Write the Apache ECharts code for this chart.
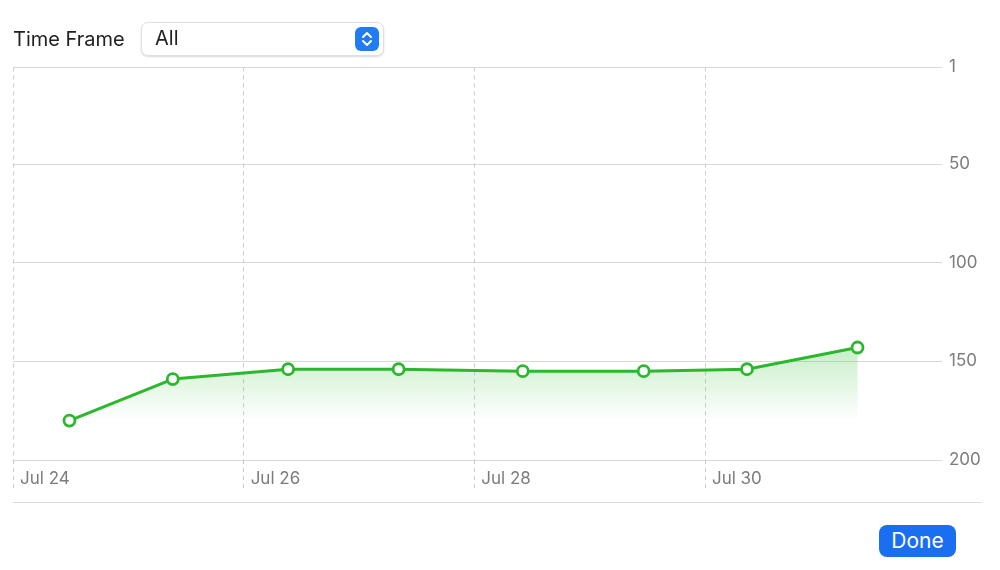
<!DOCTYPE html>
<html>
<head>
<meta charset="utf-8">
<script src="https://cdn.jsdelivr.net/npm/echarts@6/dist/echarts.min.js"></script>
<style>
  html, body { margin: 0; padding: 0; background: #fff; }
  #wrap { position: relative; width: 1000px; height: 570px; font-family: Inter, "Noto Sans", sans-serif; }
  #chart { position: absolute; left: 0; top: 0; width: 1000px; height: 570px; }
  #tf { position: absolute; left: 13px; top: 27px; font-size: 20px; color: #222; }
  #sel { position: absolute; left: 141px; top: 22px; width: 241px; height: 32px; border-radius: 7px;
         border: 1px solid #e0e0e0; box-shadow: 0 1px 2px rgba(0,0,0,0.15); background: #fff; }
  #sel span { position: absolute; left: 13px; top: 3px; font-size: 20px; color: #222; }
  #step { position: absolute; right: 4px; top: 4px; width: 24px; height: 24px; border-radius: 6px; background: #1f7cf6; }
  #done { position: absolute; left: 879px; top: 525px; width: 77px; height: 32px; border-radius: 8px;
          background: #1a6ff1; color: #fff; font-size: 21px; line-height: 32px; text-align: center; }
</style>
</head>
<body>
<div id="wrap">
  <div id="chart"></div>
  <div id="tf">Time Frame</div>
  <div id="sel"><span>All</span>
    <div id="step"><svg width="24" height="24" viewBox="0 0 24 24"><path d="M8 10 L12 6 L16 10" stroke="#fff" stroke-width="2" fill="none" stroke-linecap="round" stroke-linejoin="round"/><path d="M8 14 L12 18 L16 14" stroke="#fff" stroke-width="2" fill="none" stroke-linecap="round" stroke-linejoin="round"/></svg></div>
  </div>
  <div id="done">Done</div>
</div>
<script>
// ---- data ----
const times = ['2023-07-24T11:45:00Z', '2023-07-25T09:15:00Z', '2023-07-26T09:15:00Z', '2023-07-27T08:15:00Z',
               '2023-07-28T10:05:00Z', '2023-07-29T11:15:00Z', '2023-07-30T08:45:00Z', '2023-07-31T07:45:00Z'];
const ranks = [180, 159, 154, 154, 155, 155, 154, 143];
const xTickDates = ['2023-07-24T00:00:00Z', '2023-07-26T00:00:00Z', '2023-07-28T00:00:00Z', '2023-07-30T00:00:00Z'];
const yTicks = [1, 50, 100, 150, 200];
const xRange = ['2023-07-24T00:00:00Z', '2023-08-01T01:20:00Z'];
const yRange = [1, 200];
const months = ['Jan','Feb','Mar','Apr','May','Jun','Jul','Aug','Sep','Oct','Nov','Dec'];

const ms = s => Date.parse(s);
const seriesData = times.map((t, i) => [ms(t), ranks[i]]);
const xTicks = xTickDates.map(ms);

const chart = echarts.init(document.getElementById('chart'));
chart.setOption({
  animation: false,
  grid: { left: 13, right: 58, top: 67.3, bottom: 110 },
  xAxis: {
    type: 'value',
    min: ms(xRange[0]),
    max: ms(xRange[1]),
    axisLine: { show: false },
    axisTick: { show: true, customValues: xTicks, length: 30, lineStyle: { color: '#c8c8c8', type: [4, 4] } },
    splitLine: { show: true, lineStyle: { color: '#cccccc', type: [4, 4] } },
    axisLabel: {
      customValues: xTicks,
      align: 'left', margin: 10, padding: [0, 0, 0, 7],
      color: '#7c7c7c', fontSize: 17, fontFamily: 'Inter',
      formatter: v => { const d = new Date(v); return months[d.getUTCMonth()] + ' ' + d.getUTCDate(); }
    }
  },
  yAxis: {
    type: 'value',
    position: 'right',
    inverse: true,
    min: yRange[0],
    max: yRange[1],
    axisLine: { show: false },
    axisTick: { show: false, customValues: yTicks },
    splitLine: { show: true, lineStyle: { color: '#d8d8d8', width: 1 } },
    axisLabel: { customValues: yTicks, margin: 7, color: '#7c7c7c', fontSize: 17, fontFamily: 'Inter' }
  },
  graphic: [{
    type: 'line', shape: { x1: 13, y1: 502.5, x2: 982, y2: 502.5 },
    style: { stroke: '#dcdcdc', lineWidth: 1 }, silent: true
  }],
  series: [{
    type: 'line',
    data: seriesData,
    symbol: 'circle',
    symbolSize: 11,
    itemStyle: { color: '#fff', borderColor: '#2cb82c', borderWidth: 2.8 },
    lineStyle: { color: '#2cb82c', width: 3 },
    areaStyle: {
      origin: 180,
      color: new echarts.graphic.LinearGradient(0, 0, 0, 1, [
        { offset: 0, color: 'rgba(50,190,50,0.38)' },
        { offset: 1, color: 'rgba(50,190,50,0.0)' }
      ])
    },
    z: 3
  }]
});
</script>
</body>
</html>
